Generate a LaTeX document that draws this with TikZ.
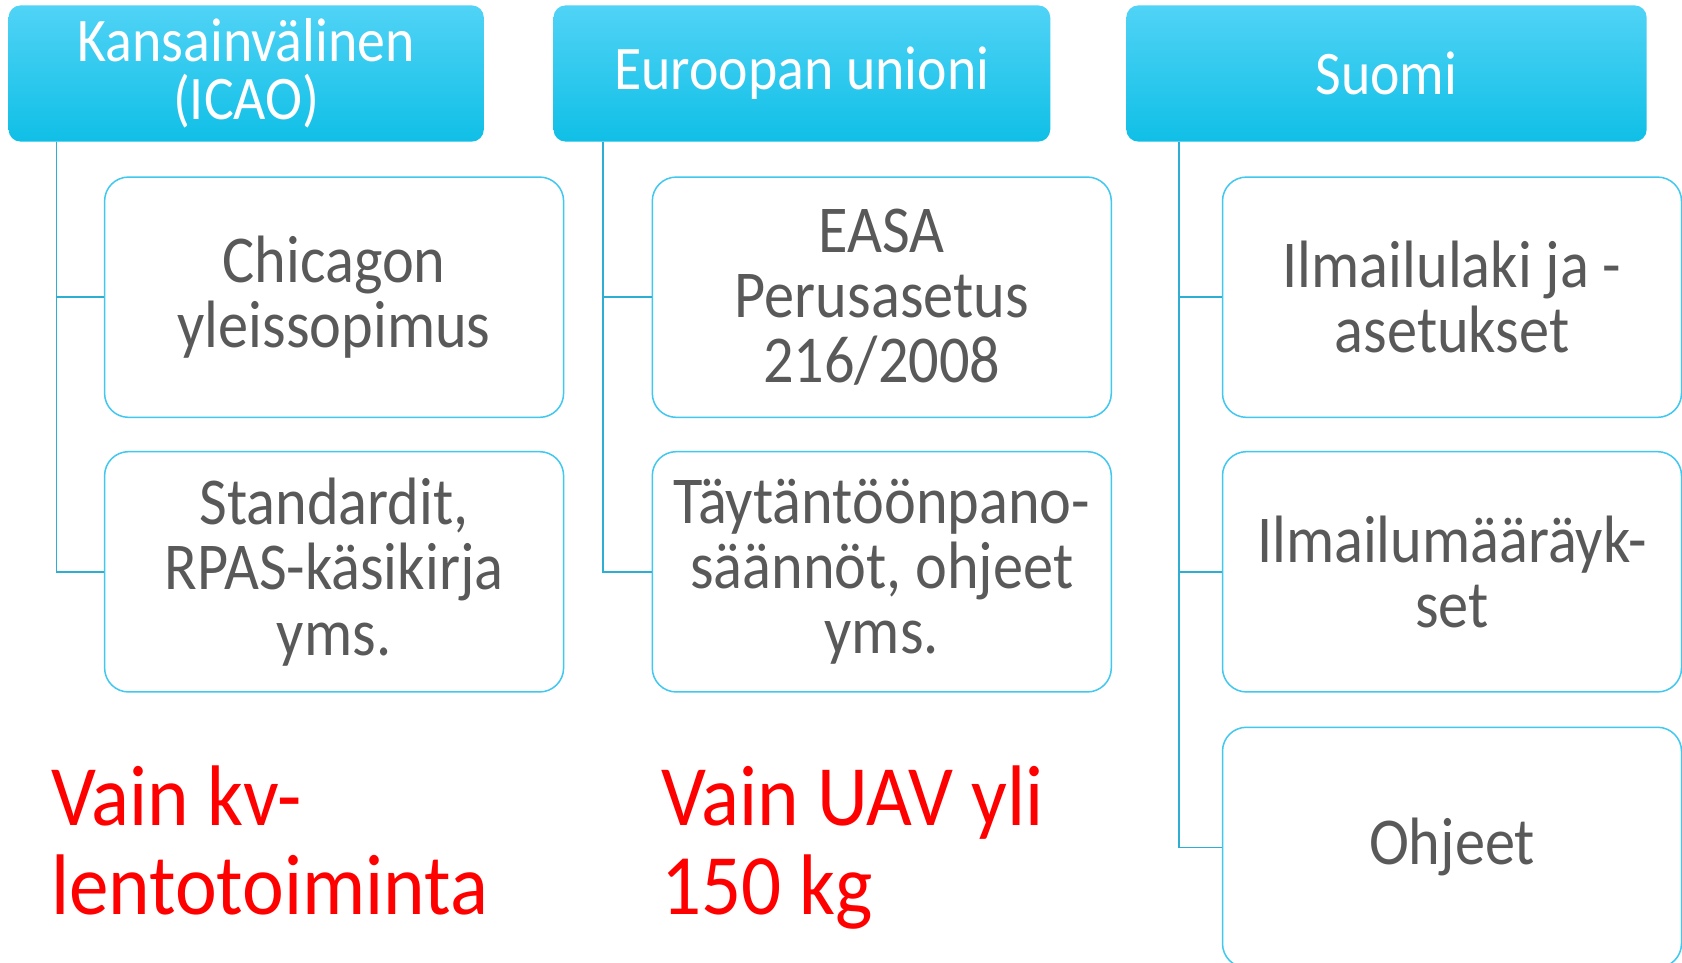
\documentclass[tikz,border=0pt]{standalone}
\usepackage{fontspec}
\setmainfont{Carlito}[FakeStretch=0.9]
\newfontfamily\notefont{Carlito}[FakeStretch=0.92]
\usetikzlibrary{calc}
\definecolor{hdtop}{HTML}{50D3F6}
\definecolor{hdmid}{HTML}{22CFFA}
\definecolor{hdbot}{HTML}{10BFE6}
\definecolor{boxline}{HTML}{40C8F0}
\definecolor{conline}{HTML}{2EAED2}
\definecolor{txtgray}{HTML}{595959}
\definecolor{redtxt}{HTML}{FF0000}
\tikzset{
  header/.style={rectangle, rounded corners=12pt, draw=none,
    top color=hdtop, middle color=hdmid, bottom color=hdbot,
    text=white, align=center, inner sep=0pt,
    minimum height=136.2pt, font=\fontsize{62}{58}\selectfont},
  child/.style={rectangle, rounded corners=24pt, draw=boxline, line width=1.5pt,
    fill=white, text=txtgray, align=center, inner sep=0pt,
    minimum width=459pt, minimum height=240.3pt,
    font=\fontsize{67}{65.4}\selectfont},
  conn/.style={draw=conline, line width=1.5pt},
  note/.style={text=redtxt, align=left, anchor=north west, inner sep=0pt,
    font=\notefont\fontsize{86}{89}\selectfont}
}
\begin{document}
\begin{tikzpicture}[x=1pt,y=-1pt]
\useasboundingbox (0,0) rectangle (1682,962);
\clip (0,0) rectangle (1682,962);
\fill[white] (0,0) rectangle (1682,962);

% headers
\node[header, minimum width=475.2pt] (h1) at (246.2,73.5) {Kansainvälinen\\(ICAO)};
\node[header, minimum width=496.7pt] (h2) at (801.9,73.5) {Euroopan unioni};
\node[header, minimum width=520.3pt] (h3) at (1386.5,73.5) {Suomi};

% children
\node[child] (c11) at (334.1,297.2) {Chicagon\\yleissopimus};
\node[child] (c12) at (334.1,571.8) {Standardit,\\RPAS-käsikirja\\yms.};
\node[child] (c21) at (881.8,297.2) {EASA\\Perusasetus\\216/2008};
\node[child] (c22) at (881.8,571.8) {Täytäntöönpano-\\säännöt, ohjeet\\yms.};
\node[child] (c31) at (1452.0,297.2) {Ilmailulaki ja -\\asetukset};
\node[child] (c32) at (1452.0,571.8) {Ilmailumääräyk-\\set};
\node[child] (c33) at (1452.0,847.4) {Ohjeet};

% connectors
\coordinate (t1) at ($(h1.south west)+(48.3,0)$);
\coordinate (t2) at ($(h2.south west)+(49.4,0)$);
\coordinate (t3) at ($(h3.south west)+(52.6,0)$);
\draw[conn] (t1) |- (c11.west);
\draw[conn] (t1) |- (c12.west);
\draw[conn] (t2) |- (c21.west);
\draw[conn] (t2) |- (c22.west);
\draw[conn] (t3) |- (c31.west);
\draw[conn] (t3) |- (c32.west);
\draw[conn] (t3) |- (c33.west);

% red notes
\node[note] (n1) at (51,766) {Vain kv-\\lentotoiminta};
\node[note] (n2) at (661,766) {Vain UAV yli\\150 kg};
\end{tikzpicture}
\end{document}
